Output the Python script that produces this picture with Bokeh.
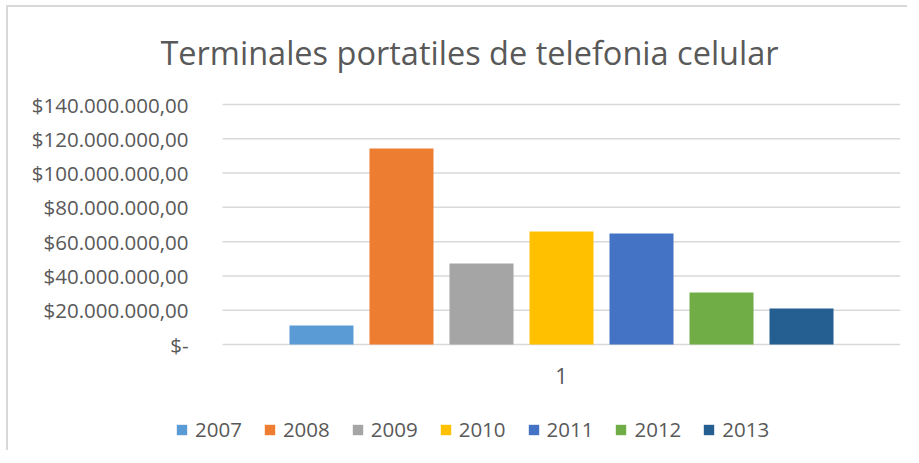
from bokeh.plotting import figure
from bokeh.models import Range1d, FixedTicker, Label, Legend, LegendItem
from bokeh.transform import dodge
from bokeh.embed import file_html
from bokeh.resources import INLINE

title_text = "Terminales portatiles de telefonia celular"
category = ["1"]
years = ["2007", "2008", "2009", "2010", "2011", "2012", "2013"]
values = [11100000, 114300000, 47300000, 65900000, 64800000, 30300000, 21000000]
colors = ["#5B9BD5", "#ED7D31", "#A5A5A5", "#FFC000", "#4472C4", "#70AD47", "#255E91"]
y_ticks = [0, 20000000, 40000000, 60000000, 80000000, 100000000, 120000000, 140000000]
tick_labels = ["$-", "$20.000.000,00", "$40.000.000,00", "$60.000.000,00", "$80.000.000,00",
               "$100.000.000,00", "$120.000.000,00", "$140.000.000,00"]

TEXT = "#595959"
GRID = "#d9d9d9"
FONT = "Open Sans"

# layout (page pixels): plot area x 222..900, y 105 (top tick) .. 345 (zero)
W, H = 901, 445
ORIGIN = 8
FRAME_L, FRAME_R, FRAME_T, FRAME_B = 160, 900, ORIGIN, ORIGIN + H
PLOT_L, PLOT_R, PLOT_TOP_Y, PLOT_ZERO_Y = 222, 900, 105, 345
y_max = y_ticks[-1]
px_per_y = (PLOT_ZERO_Y - PLOT_TOP_Y) / y_max
px_per_x = (PLOT_R - PLOT_L) / len(category)

x_start = -(PLOT_L - FRAME_L) / px_per_x
x_end = len(category) + (FRAME_R - PLOT_R) / px_per_x
y_start = -(FRAME_B - PLOT_ZERO_Y) / px_per_y
y_end = (PLOT_ZERO_Y - FRAME_T) / px_per_y

p = figure(width=W, height=H, x_range=Range1d(x_start, x_end), y_range=Range1d(y_start, y_end),
           x_axis_location=None, output_backend="svg", toolbar_location=None,
           min_border_left=FRAME_L - ORIGIN, min_border_right=ORIGIN + W - FRAME_R,
           min_border_top=0, min_border_bottom=0)
p.stylesheets = [":host { margin-left: 6px; margin-top: 5px; border-top: 2px solid #d9d9d9; border-left: 2px solid #d9d9d9; }"]
p.outline_line_color = None
p.background_fill_color = "white"
p.border_fill_color = "white"
p.xgrid.visible = False
p.ygrid.visible = False

cat_pos = [i + 0.5 for i in range(len(category))]

# horizontal gridlines across the plot area
p.segment(x0=[0] * len(y_ticks), x1=[len(category)] * len(y_ticks), y0=y_ticks, y1=y_ticks,
          line_color=GRID, line_width=1.5)

bar_w = 0.0944
step = 0.118
items = []
for i, (yr, v, c) in enumerate(zip(years, values, colors)):
    r = p.vbar(x=dodge("pos", (i - 3) * step), top="val", width=bar_w,
               source={"pos": cat_pos, "val": [v]}, fill_color=c, line_color=None)
    items.append(LegendItem(label=yr, renderers=[r]))

# category label under the axis
p.text(x=cat_pos, y=[0] * len(category), text=category, y_offset=31,
       text_align="center", text_baseline="middle", text_font_size="21.5px",
       text_color=TEXT, text_font={"value": FONT})

# y axis
p.yaxis.ticker = FixedTicker(ticks=y_ticks)
p.yaxis.major_label_overrides = {float(t): l for t, l in zip(y_ticks, tick_labels)}
p.yaxis.axis_line_color = None
p.yaxis.major_tick_line_color = None
p.yaxis.minor_tick_line_color = None
p.yaxis.major_label_standoff = -(194 - FRAME_L)
p.yaxis.major_label_text_font = FONT
p.yaxis.major_label_text_font_size = "20.5px"
p.yaxis.major_label_text_color = TEXT

# title
p.add_layout(Label(x=469 - FRAME_L, y=FRAME_B - 53, x_units="screen", y_units="screen",
                   text=title_text, text_font=FONT, text_font_size="32.5px",
                   text_color=TEXT, text_align="center", text_baseline="alphabetic"))

legend = Legend(items=items, orientation="horizontal", location=(175 - FRAME_L, 9),
                glyph_width=13, glyph_height=13, label_standoff=7, spacing=21,
                padding=0, margin=0, border_line_color=None, background_fill_alpha=0,
                label_text_font=FONT, label_text_font_size="20.5px", label_text_color=TEXT)
p.add_layout(legend, "center")

open("out.html", "w").write(file_html(p, INLINE))
